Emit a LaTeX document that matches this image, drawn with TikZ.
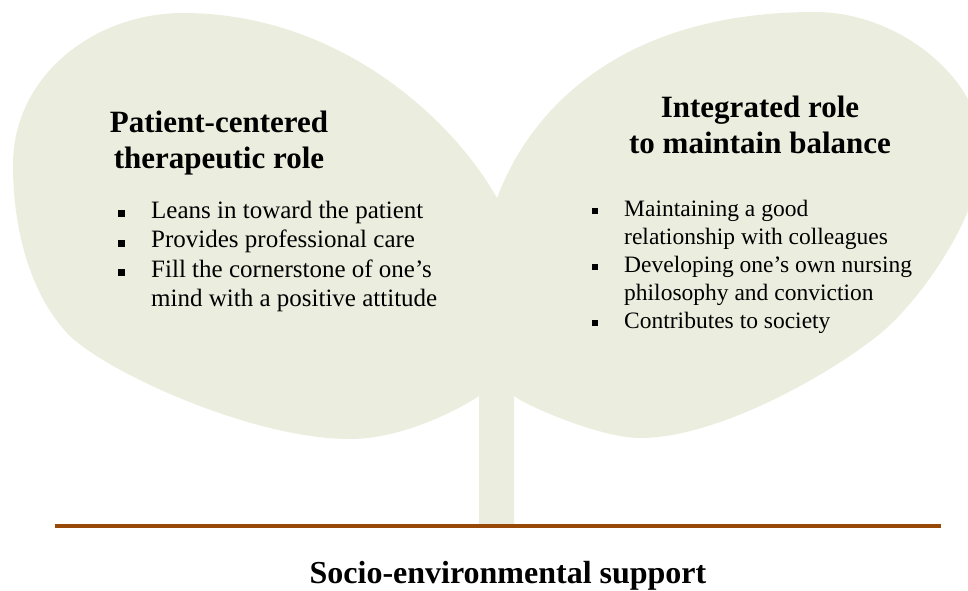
\documentclass[tikz,border=0pt]{standalone}
\usepackage{fontspec}
\setmainfont{Liberation Serif}
\definecolor{leaf}{RGB}{235,238,222}
\definecolor{soil}{RGB}{152,72,7}
\begin{document}
\begin{tikzpicture}[x=1pt,y=-1pt,
  title/.style={font=\fontsize{31}{36}\selectfont\bfseries, anchor=base, inner sep=0pt},
  itemL/.style={font=\fontsize{25}{29}\selectfont, anchor=base west, inner sep=0pt},
  itemR/.style={font=\fontsize{23.5}{28}\selectfont, anchor=base west, inner sep=0pt},
  bulL/.style={fill=black, minimum size=7pt, inner sep=0pt},
  bulR/.style={fill=black, minimum size=6pt, inner sep=0pt},
  ground/.style={draw=soil, line width=4pt}]
\useasboundingbox (0,0) rectangle (968,590);
\begin{scope}
\clip (0,0) rectangle (968,590);
\fill[leaf] (497,198)
  .. controls (450,115) and (335,13) .. (183,13)
  .. controls (95,13) and (13,75) .. (13,165)
  .. controls (13,235) and (33,296.5) .. (67,333)
  .. controls (101,369.5) and (250,439) .. (350,439)
  .. controls (400,439) and (455,412) .. (479,396)
  -- (479,526) -- (514,526) -- (514,396)
  .. controls (525,405) and (600,438) .. (640,438)
  .. controls (720,438) and (835,371) .. (881,333)
  .. controls (919.5,301) and (982,215) .. (982,150)
  .. controls (982,80) and (900,12) .. (815,12)
  .. controls (620,12) and (530,110) .. (497,198)
  -- cycle;
\end{scope}
\coordinate (gl) at (55,526);
\coordinate (gr) at (941,526);
\draw[ground] (gl) -- (gr);

\node[title] (lt1) at (219,132) {Patient-centered};
\node[title] (lt2) at (219,168) {therapeutic role};
\node[itemL] (l1) at (151,218) {Leans in toward the patient};
\node[itemL] (l2) at (151,247.5) {Provides professional care};
\node[itemL] (l3) at (151,277) {Fill the cornerstone of one’s};
\node[itemL] (l4) at (151,306.5) {mind with a positive attitude};
\node[bulL] (bl1) at (121.5,213.5) {};
\node[bulL] (bl2) at (121.5,243) {};
\node[bulL] (bl3) at (121.5,272.5) {};

\node[title] (rt1) at (760,117) {Integrated role};
\node[title] (rt2) at (760,153) {to maintain balance};
\node[itemR] (r1) at (624,216) {Maintaining a good};
\node[itemR] (r2) at (624,244) {relationship with colleagues};
\node[itemR] (r3) at (624,272) {Developing one’s own nursing};
\node[itemR] (r4) at (624,300) {philosophy and conviction};
\node[itemR] (r5) at (624,328) {Contributes to society};
\node[bulR] (br1) at (595,211) {};
\node[bulR] (br2) at (595,267) {};
\node[bulR] (br3) at (595,323) {};

\node[title, font=\fontsize{32}{38}\selectfont\bfseries] (soc) at (508,583) {Socio-environmental support};
\end{tikzpicture}
\end{document}
